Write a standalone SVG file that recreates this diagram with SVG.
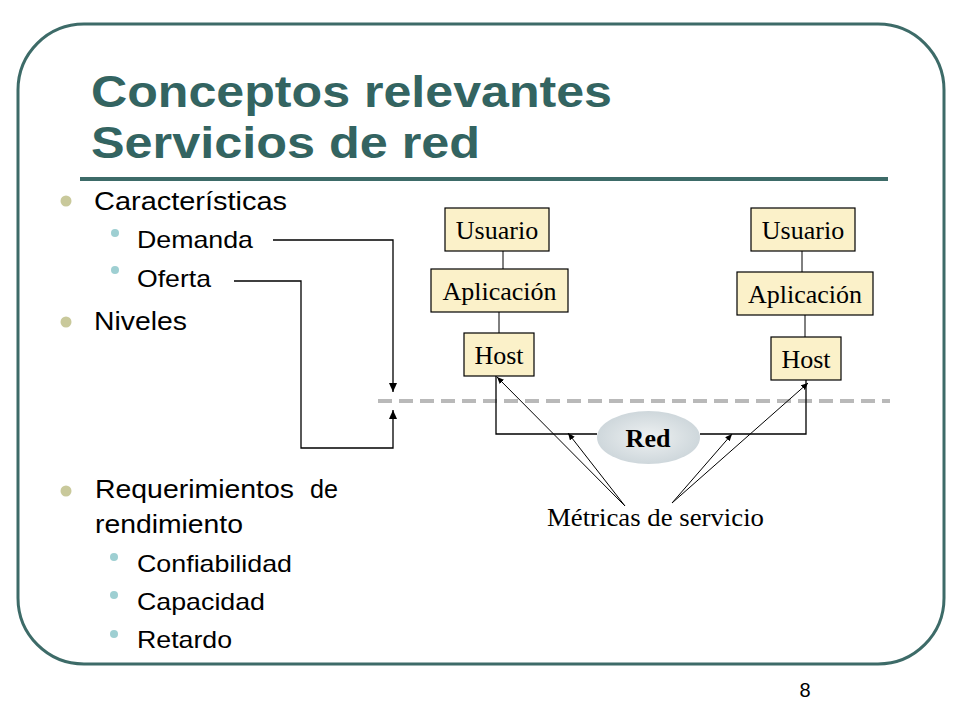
<svg xmlns="http://www.w3.org/2000/svg" width="960" height="720" viewBox="0 0 960 720">
<defs>
<style>
.frame{fill:none;stroke:#3D6B68;stroke-width:3}
.title{font-family:"Liberation Sans",Arial,sans-serif;font-weight:bold;font-size:45px;fill:#336461}
.l1{font-family:"Liberation Sans",Arial,sans-serif;font-size:26px;fill:#000}
.l2{font-family:"Liberation Sans",Arial,sans-serif;font-size:24px;fill:#000}
.b1{fill:#C9C99B}
.b2{fill:#9ECFD2}
.box{fill:#FBF1C9;stroke:#000;stroke-width:1.2}
.bt{font-family:"Liberation Serif","Times New Roman",serif;font-size:26px;fill:#000;text-anchor:middle}
.ln{fill:none;stroke:#000;stroke-width:1.3}
.thin{fill:none;stroke:#000;stroke-width:1}
</style>
<marker id="ah" markerWidth="10" markerHeight="8" refX="9" refY="4" orient="auto" markerUnits="userSpaceOnUse">
<path d="M0,0 L9,4 L0,8 Z" fill="#000"/>
</marker>
<marker id="as" markerWidth="8" markerHeight="6" refX="7" refY="3" orient="auto" markerUnits="userSpaceOnUse">
<path d="M0,0 L7,3 L0,6 Z" fill="#000"/>
</marker>
<radialGradient id="eg" cx="0.5" cy="0.5" r="0.6">
<stop offset="0" stop-color="#EEF1F2"/>
<stop offset="1" stop-color="#C8D2D7"/>
</radialGradient>
</defs>
<rect width="960" height="720" fill="#FFFFFF"/>
<rect class="frame" x="18" y="24" width="926" height="640" rx="66" ry="66"/>

<g id="title">
<text class="title" x="91" y="107" textLength="521" lengthAdjust="spacingAndGlyphs">Conceptos relevantes</text>
<text class="title" x="91" y="158" textLength="389" lengthAdjust="spacingAndGlyphs">Servicios de red</text>
<rect x="80" y="177" width="808" height="4" fill="#3D6B68"/>
</g>

<g id="bullets">
<circle class="b1" cx="66" cy="201" r="5.5"/>
<text class="l1" x="94" y="210" textLength="193" lengthAdjust="spacingAndGlyphs">Características</text>
<circle class="b2" cx="115" cy="233" r="4"/>
<text class="l2" x="137" y="248" textLength="116" lengthAdjust="spacingAndGlyphs">Demanda</text>
<circle class="b2" cx="115" cy="270" r="4"/>
<text class="l2" x="137" y="287" textLength="74" lengthAdjust="spacingAndGlyphs">Oferta</text>
<circle class="b1" cx="66" cy="322" r="5.5"/>
<text class="l1" x="94" y="330" textLength="93" lengthAdjust="spacingAndGlyphs">Niveles</text>
<circle class="b1" cx="66" cy="491" r="5.5"/>
<text class="l1" x="95" y="498"><tspan textLength="199" lengthAdjust="spacingAndGlyphs">Requerimientos</tspan><tspan x="310" textLength="28" lengthAdjust="spacingAndGlyphs">de</tspan></text>
<text class="l1" x="95" y="533" textLength="148" lengthAdjust="spacingAndGlyphs">rendimiento</text>
<circle class="b2" cx="114" cy="557" r="4"/>
<text class="l2" x="137" y="572" textLength="155" lengthAdjust="spacingAndGlyphs">Confiabilidad</text>
<circle class="b2" cx="114" cy="595" r="4"/>
<text class="l2" x="137" y="610" textLength="128" lengthAdjust="spacingAndGlyphs">Capacidad</text>
<circle class="b2" cx="114" cy="634" r="4"/>
<text class="l2" x="137" y="648" textLength="95" lengthAdjust="spacingAndGlyphs">Retardo</text>
</g>

<g id="connectors">
<polyline class="ln" points="273,240 393,240 393,392" marker-end="url(#ah)"/>
<polyline class="ln" points="234,281 301,281 301,448 393,448 393,410" marker-end="url(#ah)"/>
<line x1="378" y1="401" x2="890" y2="401" stroke="#B9B9B9" stroke-width="4" stroke-dasharray="14 7"/>
<line class="thin" x1="503" y1="251" x2="503" y2="269"/>
<line class="thin" x1="499" y1="312" x2="499" y2="333"/>
<line class="thin" x1="802" y1="251" x2="802" y2="272"/>
<line class="thin" x1="805" y1="315" x2="805" y2="337"/>
<polyline class="ln" points="597,434 496,434 496,376"/>
<polyline class="ln" points="700,434 806,434 806,380"/>
<line class="thin" x1="625" y1="506" x2="497" y2="377" marker-end="url(#as)"/>
<line class="thin" x1="625" y1="506" x2="568" y2="433" marker-end="url(#as)"/>
<line class="thin" x1="672" y1="503" x2="732" y2="434" marker-end="url(#as)"/>
<line class="thin" x1="672" y1="503" x2="808" y2="383" marker-end="url(#as)"/>
</g>

<g id="usuario-izq">
<rect class="box" x="445" y="208" width="104" height="43"/>
<text class="bt" x="497" y="239">Usuario</text>
</g>
<g id="aplicacion-izq">
<rect class="box" x="431" y="269" width="137" height="43"/>
<text class="bt" x="499.5" y="300">Aplicación</text>
</g>
<g id="host-izq">
<rect class="box" x="464" y="333" width="70" height="43"/>
<text class="bt" x="499" y="364">Host</text>
</g>
<g id="usuario-der">
<rect class="box" x="751" y="208" width="104" height="43"/>
<text class="bt" x="803" y="239">Usuario</text>
</g>
<g id="aplicacion-der">
<rect class="box" x="737" y="272" width="136" height="43"/>
<text class="bt" x="805" y="303">Aplicación</text>
</g>
<g id="host-der">
<rect class="box" x="771" y="337" width="70" height="43"/>
<text class="bt" x="806" y="368">Host</text>
</g>
<g id="red">
<ellipse cx="648.5" cy="437.5" rx="51.5" ry="26.5" fill="url(#eg)"/>
<text class="bt" x="648" y="447" font-weight="bold">Red</text>
</g>
<g id="metricas">
<text x="547" y="526" font-family="'Liberation Serif','Times New Roman',serif" font-size="26" textLength="217" lengthAdjust="spacingAndGlyphs">Métricas de servicio</text>
</g>
<text x="805" y="697" font-family="'Liberation Sans',Arial,sans-serif" font-size="20" text-anchor="middle">8</text>
</svg>
